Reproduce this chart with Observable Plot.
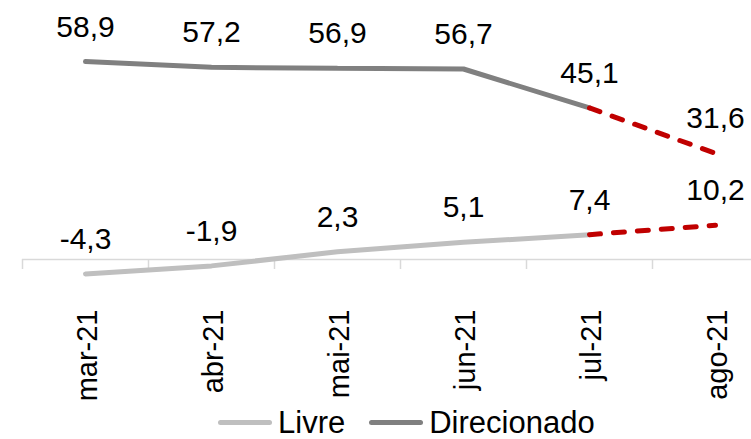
<!DOCTYPE html>
<html>
<head>
<meta charset="utf-8">
<script src="https://cdn.jsdelivr.net/npm/d3@7"></script>
<script src="https://cdn.jsdelivr.net/npm/@observablehq/plot@0.6"></script>
<style>
  html, body { margin: 0; padding: 0; background: #fff; }
  #chart { width: 751px; }
  .legend { height: 39px; display: flex; align-items: center; padding-left: 218px; position: relative; top: 3px;
    font-family: "Liberation Sans", Arial, sans-serif; font-size: 31px; color: #000; line-height: 39px; }
  .legend .item { display: flex; align-items: center; margin-right: 24px; }
  .legend .sw { width: 54px; height: 5px; border-radius: 3px; margin-right: 6px; }
</style>
</head>
<body>
<div id="chart"></div>
<script>
const months = ["mar-21", "abr-21", "mai-21", "jun-21", "jul-21", "ago-21"];
const livre = [-4.3, -1.9, 2.3, 5.1, 7.4, 10.2];
const direcionado = [58.9, 57.2, 56.9, 56.7, 45.1, 31.6];
const seriesNames = ["Livre", "Direcionado"];
const seriesColors = ["#bfbfbf", "#808080"];
const projectionColor = "#c00000";
const projectionStart = "jul-21";

const startIdx = months.indexOf(projectionStart);
const seriesValues = [livre, direcionado];
const rows = [];
seriesNames.forEach((name, s) => {
  months.forEach((m, i) => rows.push({series: name, i, month: m, value: seriesValues[s][i]}));
});
const fmt = v => v.toFixed(1).replace(".", ",");
const bounds = d3.range(months.length + 1).map(k => k - 0.5);
const centers = d3.range(months.length);

const font = "'Liberation Sans', Arial, sans-serif";
const H = 400;
const plot = Plot.plot({
  width: 751,
  height: H,
  marginLeft: 22,
  marginRight: 0,
  marginTop: 0,
  marginBottom: 141,
  style: {fontFamily: font, fontSize: "30px", background: "#fff", color: "#000", overflow: "visible"},
  x: {type: "linear", domain: [-0.5, months.length - 0.5], range: [22, 778], axis: null},
  y: {type: "linear", domain: [0, 60], range: [259, 57.4], axis: null},
  marks: [
    Plot.ruleY([0], {stroke: "#d9d9d9", strokeWidth: 1.5}),
    Plot.axisX(bounds, {tickSize: 10, stroke: "#d9d9d9", strokeWidth: 1.5, fill: "none", label: null}),
    Plot.axisX(centers, {tickSize: 0, tickPadding: 50, tickRotate: -90, tickFormat: i => months[i],
      fontSize: 29, fill: "#000", dx: 2, label: null}),
    ...seriesNames.map((name, s) => Plot.line(rows.filter(d => d.series === name && d.i <= startIdx), {
      x: "i", y: "value", stroke: seriesColors[s], strokeWidth: 5, strokeLinecap: "round",
      strokeLinejoin: "miter", curve: "linear"
    })),
    ...seriesNames.map(name => Plot.line(rows.filter(d => d.series === name && d.i >= startIdx), {
      x: "i", y: "value", stroke: projectionColor, strokeWidth: 5, strokeLinecap: "round",
      strokeDasharray: "11,13"
    })),
    Plot.text(rows, {x: "i", y: "value", text: d => fmt(d.value), dy: -25, lineAnchor: "bottom",
      fontSize: 30, fill: "#000"})
  ]
});
document.getElementById("chart").appendChild(plot);

const legend = document.createElement("div");
legend.className = "legend";
seriesNames.forEach((name, s) => {
  const item = document.createElement("div");
  item.className = "item";
  const sw = document.createElement("div");
  sw.className = "sw";
  sw.style.background = seriesColors[s];
  const label = document.createElement("span");
  label.textContent = name;
  item.appendChild(sw);
  item.appendChild(label);
  legend.appendChild(item);
});
document.body.appendChild(legend);
</script>
</body>
</html>
